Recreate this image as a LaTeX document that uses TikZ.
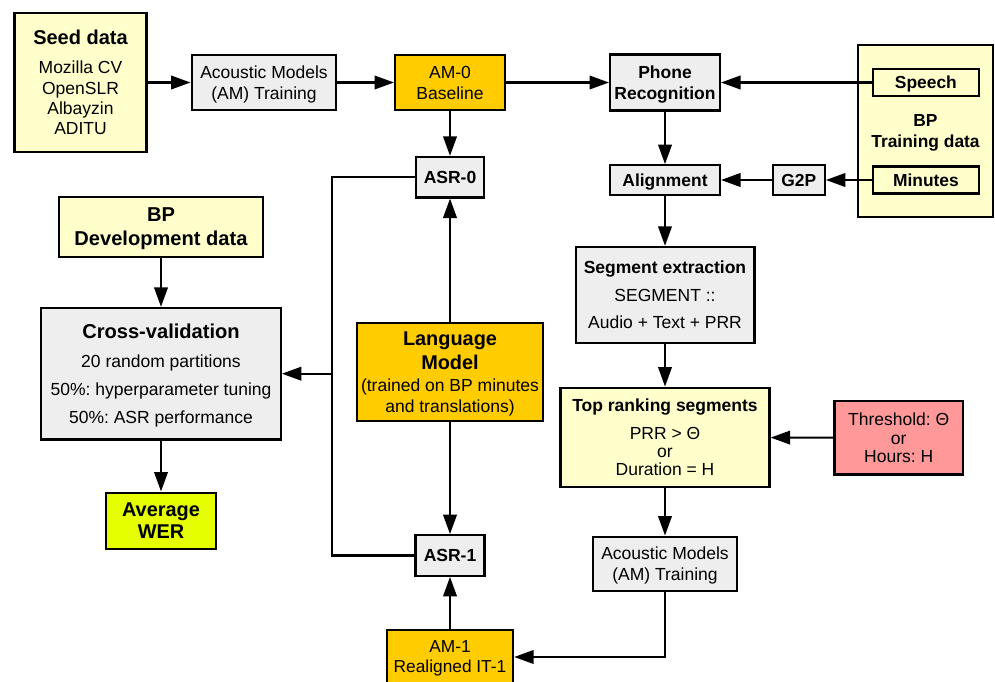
\documentclass[tikz,border=0pt]{standalone}
\usepackage{fontspec}
\setmainfont{Liberation Sans}
\usetikzlibrary{arrows.meta}
\definecolor{lyel}{HTML}{FFFFCC}
\definecolor{lgray}{HTML}{EEEEEE}
\definecolor{orng}{HTML}{FFCC00}
\definecolor{limeg}{HTML}{E5FF00}
\definecolor{thrpink}{HTML}{FF9999}
\newcommand{\fs}[2]{\fontsize{#1}{#2}\selectfont}
\tikzset{
  box/.style={draw=black, line width=2.3pt, inner sep=0pt, align=center, text=black, text depth=0pt},
  conn/.style={line width=2.2pt, -{Triangle[length=19.5pt,width=13.5pt]}},
  plainline/.style={line width=2.2pt},
}
\begin{document}
\frenchspacing
\begin{tikzpicture}[x=1pt,y=-1pt]
\useasboundingbox (0,0) rectangle (995,682);
\clip (0,0) rectangle (995,682);

% top row
\node[box, fill=lyel, minimum width=132pt, minimum height=139pt, font=\fs{17.5}{20.3}] (seed) at (80.5,82.5)
  {{\bfseries\fs{20}{20}Seed data}\\[9.1pt]Mozilla CV\\OpenSLR\\Albayzin\\ADITU};
\node[box, fill=lgray, minimum width=144.6pt, minimum height=54.4pt, font=\fs{17.5}{21}] (amtrain) at (264,82.5)
  {Acoustic Models\\(AM) Training};
\node[box, fill=orng, minimum width=109.7pt, minimum height=54.4pt, font=\fs{17.5}{21}] (am0) at (450,82.5)
  {AM-0\\Baseline};
\node[box, fill=lgray, minimum width=109.7pt, minimum height=56pt, font=\bfseries\fs{17.5}{21}] (phone) at (665,82.5)
  {Phone\\Recognition};

% BP training data
\node[box, fill=lyel, minimum width=135.6pt, minimum height=172pt, font=\bfseries\fs{17.4}{21}] (bptrain) at (925.5,131.3)
  {BP\\Training data};
\node[box, fill=lyel, minimum width=106.3pt, minimum height=27.4pt, font=\bfseries\fs{17.4}{21}] (speech) at (925.9,82.5)
  {Speech};
\node[box, fill=lyel, minimum width=106.3pt, minimum height=27pt, font=\bfseries\fs{17.4}{21}] (minutes) at (925.9,180)
  {Minutes};

\node[box, fill=lgray, minimum width=109.7pt, minimum height=29.4pt, font=\bfseries\fs{17.4}{21}] (align) at (665,180)
  {Alignment};
\node[box, fill=lgray, minimum width=52pt, minimum height=29.4pt, font=\bfseries\fs{17.4}{21}] (g2p) at (798.7,180)
  {G2P};
\node[box, fill=lgray, minimum width=68.6pt, minimum height=40.3pt, font=\bfseries\fs{17.5}{21}] (asr0) at (450,177.2)
  {ASR-0};

% left column
\node[box, fill=lyel, minimum width=204pt, minimum height=59.7pt, font=\bfseries\fs{20.1}{24}] (bpdev) at (161,226.8)
  {BP\\Development data};
\node[box, fill=lgray, minimum width=239.4pt, minimum height=131.3pt, font=\fs{17.5}{28}] (crossval) at (161,373.7)
  {{\bfseries\fs{20.1}{20}Cross-validation}\\[1.4pt]20 random partitions\\50\%: hyperparameter tuning\\50\%: ASR performance};
\node[box, fill=limeg, minimum width=110pt, minimum height=56.3pt, font=\bfseries\fs{19.9}{21.7}] (avgwer) at (161,520.8)
  {Average\\WER};

% middle column
\node[box, fill=orng, minimum width=186.3pt, minimum height=97.4pt, font=\fs{17.5}{20.7}] (lm) at (450,372)
  {{\bfseries\fs{19.9}{20}Language}\\[2.7pt]{\bfseries\fs{19.9}{20}Model}\\[1.6pt](trained on BP minutes\\and translations)};
\node[box, fill=lgray, minimum width=69pt, minimum height=40.4pt, font=\bfseries\fs{17.5}{21}] (asr1) at (450,555.5)
  {ASR-1};
\node[box, fill=orng, minimum width=126pt, minimum height=54pt, font=\fs{17.3}{20}] (am1) at (450,657)
  {AM-1\\Realigned IT-1};

% right column
\node[box, fill=lgray, minimum width=178.7pt, minimum height=96pt, font=\fs{17.5}{27.5}] (segext) at (665,295)
  {{\bfseries\fs{17.5}{20}Segment extraction}\\SEGMENT ::\\Audio + Text + PRR};
\node[box, fill=lyel, minimum width=209pt, minimum height=99.6pt, font=\fs{17.5}{18.3}] (toprank) at (665,437.5)
  {{\bfseries\fs{17.5}{20}Top ranking segments}\\[9pt]PRR > Θ\\or\\Duration = H};
\node[box, fill=thrpink, minimum width=128.7pt, minimum height=73.3pt, font=\fs{17.5}{18.3}] (thresh) at (898.7,437.7)
  {Threshold: Θ\\or\\Hours: H};
\node[box, fill=lgray, minimum width=144.6pt, minimum height=54pt, font=\fs{17.5}{21}] (amtrain2) at (665,563.7)
  {Acoustic Models\\(AM) Training};

\coordinate (jx) at (332,373.7);

% connectors
\draw[conn] (seed) -- (amtrain);
\draw[conn] (amtrain) -- (am0);
\draw[conn] (am0) -- (phone);
\draw[conn] (speech.west) -- (phone.east);
\draw[conn] (am0) -- (asr0);
\draw[conn] (phone) -- (align);
\draw[conn] (minutes.west) -- (g2p.east);
\draw[conn] (g2p) -- (align);
\draw[conn] (align) -- (segext);
\draw[conn] (segext) -- (toprank);
\draw[conn] (thresh) -- (toprank);
\draw[conn] (toprank) -- (amtrain2);
\draw[conn] (amtrain2.south) |- (am1.east);
\draw[conn] (am1) -- (asr1);
\draw[conn] (lm) -- (asr0);
\draw[conn] (lm) -- (asr1);
\draw[plainline] (asr0.west) -| (jx) |- (asr1.west);
\draw[conn] (jx) -- (crossval.east);
\draw[conn] (bpdev) -- (crossval);
\draw[conn] (crossval) -- (avgwer);
\end{tikzpicture}
\end{document}
